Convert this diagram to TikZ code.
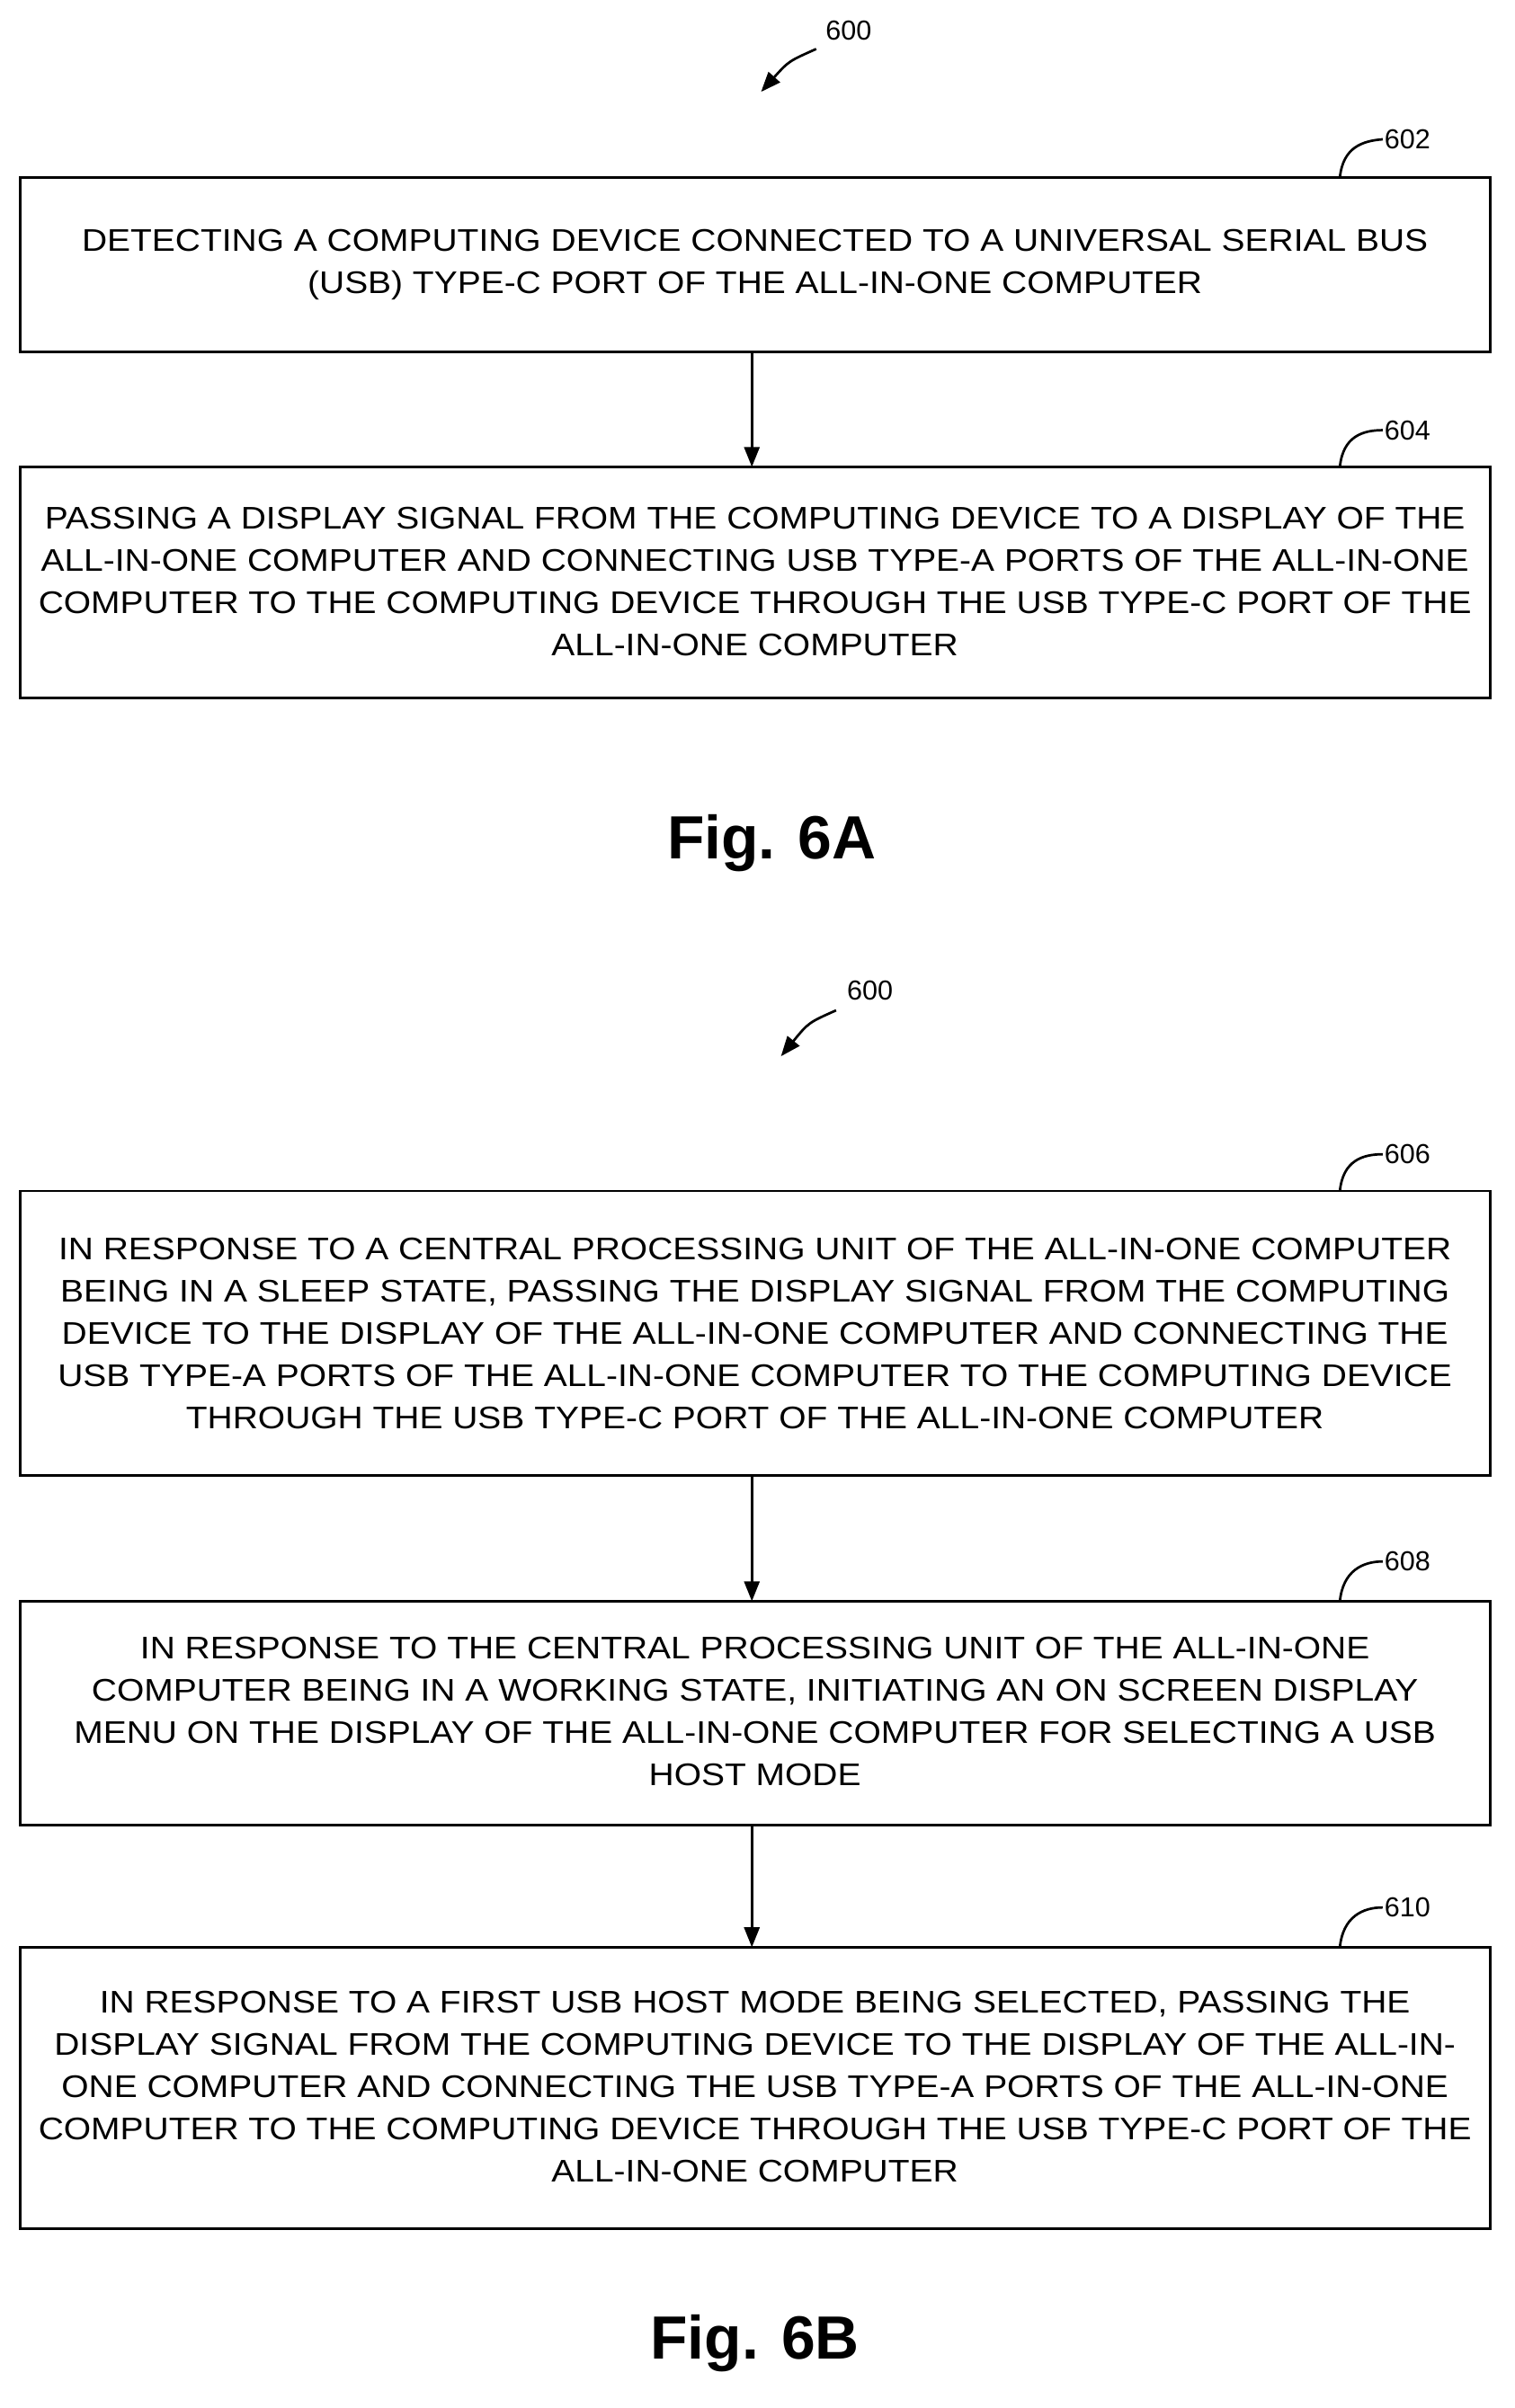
\documentclass[tikz,border=0pt]{standalone}
\usepackage{fontspec}
\setmainfont{Liberation Sans}
\newfontfamily\widefont[FakeStretch=1.12]{Liberation Sans}
\usetikzlibrary{arrows.meta}
\begin{document}
\begin{tikzpicture}[x=1bp,y=-1bp,
  box/.style={draw,line width=1.6bp,inner sep=0},
  txt/.style={align=center,font=\widefont\fontsize{20.5}{27.6}\selectfont},
  lbl/.style={anchor=west,font=\fontsize{18}{20}\selectfont,inner sep=1bp},
  arr/.style={-{Triangle[length=13bp,width=10bp]},line width=1.6bp},
  lead/.style={line width=1.6bp},
  fig/.style={font=\fontsize{40}{44}\selectfont\bfseries}]
\useasboundingbox (0,0) rectangle (989,1573);
% Fig 6A
\node[lbl] (l600a) at (538,20) {600};
\coordinate (a600a) at (497,60);
\draw[arr] (533,32) .. controls (515,40) .. (a600a);
\draw[box] (13,116) rectangle (973,230);
\node[txt] (t602) at (493,173) {DETECTING A COMPUTING DEVICE CONNECTED TO A UNIVERSAL SERIAL BUS\\(USB) TYPE-C PORT OF THE ALL-IN-ONE COMPUTER};
\coordinate (b602) at (491,230);
\node[lbl] (l602) at (903,91) {602};
\draw[lead] (875,116) .. controls (877,96) and (890,92) .. (l602.west);
\draw[box] (13,305) rectangle (973,456);
\node[txt] (t604) at (493,380) {PASSING A DISPLAY SIGNAL FROM THE COMPUTING DEVICE TO A DISPLAY OF THE\\ALL-IN-ONE COMPUTER AND CONNECTING USB TYPE-A PORTS OF THE ALL-IN-ONE\\COMPUTER TO THE COMPUTING DEVICE THROUGH THE USB TYPE-C PORT OF THE\\ALL-IN-ONE COMPUTER};
\coordinate (top604) at (491,305);
\draw[arr] (b602) -- (top604);
\node[lbl] (l604) at (903,281) {604};
\draw[lead] (875,305) .. controls (877,285) and (890,281) .. (l604.west);
\node[fig] (f6a) at (504,551) {Fig. 6A};
% Fig 6B
\node[lbl] (l600b) at (552,647) {600};
\coordinate (a600b) at (510,690);
\draw[arr] (546,660) .. controls (528,668) .. (a600b);
\draw[box] (13,778) rectangle (973,964);
\node[txt] (t606) at (493,871) {IN RESPONSE TO A CENTRAL PROCESSING UNIT OF THE ALL-IN-ONE COMPUTER\\BEING IN A SLEEP STATE, PASSING THE DISPLAY SIGNAL FROM THE COMPUTING\\DEVICE TO THE DISPLAY OF THE ALL-IN-ONE COMPUTER AND CONNECTING THE\\USB TYPE-A PORTS OF THE ALL-IN-ONE COMPUTER TO THE COMPUTING DEVICE\\THROUGH THE USB TYPE-C PORT OF THE ALL-IN-ONE COMPUTER};
\node[lbl] (l606) at (903,754) {606};
\draw[lead] (875,778) .. controls (877,758) and (890,754) .. (l606.west);
\draw[box] (13,1046) rectangle (973,1192);
\node[txt] (t608) at (493,1118) {IN RESPONSE TO THE CENTRAL PROCESSING UNIT OF THE ALL-IN-ONE\\COMPUTER BEING IN A WORKING STATE, INITIATING AN ON SCREEN DISPLAY\\MENU ON THE DISPLAY OF THE ALL-IN-ONE COMPUTER FOR SELECTING A USB\\HOST MODE};
\node[lbl] (l608) at (903,1020) {608};
\draw[lead] (875,1046) .. controls (877,1026) and (890,1020) .. (l608.west);
\draw[box] (13,1272) rectangle (973,1456);
\node[txt] (t610) at (493,1363) {IN RESPONSE TO A FIRST USB HOST MODE BEING SELECTED, PASSING THE\\DISPLAY SIGNAL FROM THE COMPUTING DEVICE TO THE DISPLAY OF THE ALL-IN-\\ONE COMPUTER AND CONNECTING THE USB TYPE-A PORTS OF THE ALL-IN-ONE\\COMPUTER TO THE COMPUTING DEVICE THROUGH THE USB TYPE-C PORT OF THE\\ALL-IN-ONE COMPUTER};
\node[lbl] (l610) at (903,1246) {610};
\draw[lead] (875,1272) .. controls (877,1252) and (890,1246) .. (l610.west);
\coordinate (b606) at (491,964);
\coordinate (t608c) at (491,1046);
\coordinate (b608) at (491,1192);
\coordinate (t610c) at (491,1272);
\draw[arr] (b606) -- (t608c);
\draw[arr] (b608) -- (t610c);
\node[fig] (f6b) at (493,1531) {Fig. 6B};
\end{tikzpicture}
\end{document}
